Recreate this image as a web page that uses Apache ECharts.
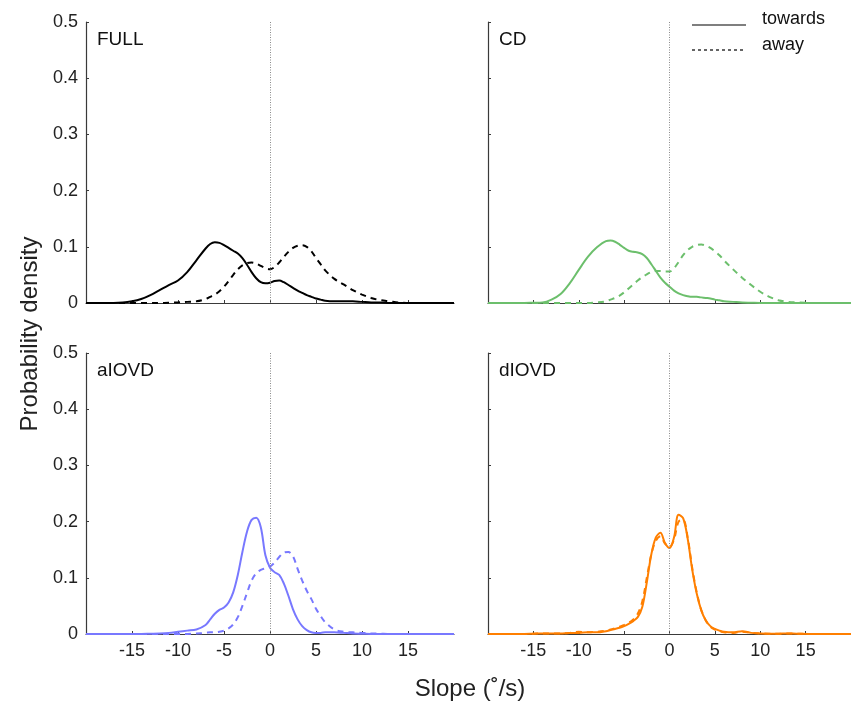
<!DOCTYPE html>
<head>
    <meta charset="utf-8">
    <title>Slope density</title>
    <style>
        html, body{
            margin: 0;
            padding: 0;
            background: #fff;
        }
        #main{
            width: 851px;
            height: 704px;
        }
    </style>
</head>
<body>
    <div id="main"></div>
    <script src="https://cdn.jsdelivr.net/npm/echarts@6/dist/echarts.min.js"></script>
    <script>
        // slope values (deg/s) where the densities were read
        var xs = [-20, -18, -16, -15, -14, -13, -12, -11, -10, -9, -8, -7,
            -6.5, -6, -5.5, -5, -4.5, -4, -3.5, -3, -2.5, -2, -1.5, -1, -0.5,
            0, 0.5, 1, 1.5, 2, 2.5, 3, 3.5, 4, 4.5, 5, 5.5, 6,
            7, 8, 9, 10, 11, 12, 13, 14, 16, 18, 20];

        var panelNames = ['FULL', 'CD', 'aIOVD', 'dIOVD'];
        var panelColors = ['#000000', '#6cbf6c', '#7878ff', '#ff7f00'];
        var xTicks = [-15, -10, -5, 0, 5, 10, 15];
        var legendNames = ['towards', 'away'];

        var fullTowards = [0, 0, 0.001, 0.003, 0.007, 0.014, 0.023, 0.032, 0.040, 0.055, 0.076, 0.097,
            0.105, 0.108, 0.107, 0.103, 0.098, 0.093, 0.088, 0.080, 0.068, 0.055, 0.044, 0.037, 0.035,
            0.036, 0.039, 0.040, 0.037, 0.032, 0.027, 0.022, 0.018, 0.014, 0.011, 0.008, 0.006, 0.004,
            0.003, 0.003, 0.003, 0.002, 0.001, 0.001, 0, 0, 0, 0, 0];
        var fullAway = [0, 0, 0, 0, 0, 0, 0, 0.0005, 0.001, 0.002, 0.003, 0.007,
            0.011, 0.015, 0.021, 0.029, 0.039, 0.050, 0.060, 0.067, 0.071, 0.072, 0.070, 0.066, 0.062,
            0.060, 0.064, 0.072, 0.082, 0.091, 0.098, 0.102, 0.103, 0.100, 0.092, 0.080, 0.069, 0.058,
            0.043, 0.033, 0.023, 0.015, 0.009, 0.005, 0.003, 0.001, 0, 0, 0];

        var cdTowards = [0, 0, 0, 0.0005, 0.001, 0.006, 0.016, 0.035, 0.059, 0.082, 0.099, 0.110,
            0.111, 0.109, 0.104, 0.098, 0.093, 0.091, 0.090, 0.087, 0.080, 0.069, 0.057, 0.045, 0.036,
            0.029, 0.022, 0.017, 0.014, 0.012, 0.011, 0.011, 0.010, 0.009, 0.008, 0.006, 0.005, 0.003,
            0.002, 0.001, 0.0005, 0, 0, 0, 0, 0, 0, 0, 0];
        var cdAway = [0, 0, 0, 0, 0, 0, 0, 0, 0, 0, 0.001, 0.003,
            0.006, 0.009, 0.013, 0.019, 0.026, 0.033, 0.040, 0.046, 0.051, 0.055, 0.057, 0.057, 0.056,
            0.056, 0.062, 0.073, 0.085, 0.094, 0.100, 0.103, 0.104, 0.102, 0.098, 0.092, 0.085, 0.076,
            0.060, 0.045, 0.032, 0.020, 0.011, 0.005, 0.002, 0.001, 0, 0, 0];

        var aiTowards = [0, 0, 0, 0, 0, 0.0005, 0.001, 0.002, 0.004, 0.006, 0.008, 0.016,
            0.026, 0.036, 0.043, 0.047, 0.056, 0.074, 0.105, 0.146, 0.182, 0.203, 0.207, 0.190, 0.140,
            0.118, 0.110, 0.105, 0.090, 0.068, 0.044, 0.026, 0.014, 0.007, 0.003, 0.002, 0.002, 0.003,
            0.003, 0.002, 0.001, 0.0005, 0, 0, 0, 0, 0, 0, 0];
        var aiAway = [0, 0, 0, 0, 0, 0, 0, 0, 0, 0, 0.001, 0.002,
            0.003, 0.003, 0.004, 0.006, 0.010, 0.017, 0.030, 0.050, 0.073, 0.095, 0.108, 0.114, 0.117,
            0.120, 0.127, 0.137, 0.145, 0.146, 0.138, 0.116, 0.095, 0.077, 0.062, 0.045, 0.032, 0.021,
            0.008, 0.004, 0.003, 0.002, 0.001, 0.0005, 0, 0, 0, 0, 0];

        var diTowards = [0, 0, 0, 0.0005, 0.001, 0.001, 0.001, 0.002, 0.002, 0.003, 0.003, 0.005,
            0.007, 0.009, 0.011, 0.014, 0.018, 0.023, 0.030, 0.048, 0.092, 0.142, 0.172, 0.180, 0.162,
            0.153, 0.172, 0.212, 0.206, 0.170, 0.115, 0.072, 0.042, 0.024, 0.014, 0.009, 0.006, 0.004,
            0.003, 0.005, 0.002, 0.001, 0.0005, 0.0005, 0.001, 0.0005, 0, 0, 0];
        var diAway = [0, 0, 0, 0.0005, 0.001, 0.001, 0.001, 0.002, 0.004, 0.003, 0.004, 0.006,
            0.008, 0.010, 0.013, 0.016, 0.020, 0.026, 0.036, 0.058, 0.100, 0.142, 0.166, 0.174, 0.161,
            0.155, 0.168, 0.200, 0.203, 0.172, 0.118, 0.074, 0.043, 0.024, 0.013, 0.008, 0.005, 0.003,
            0.002, 0.004, 0.002, 0.001, 0.0005, 0.0005, 0.001, 0.0005, 0, 0, 0];

        var towardsData = [fullTowards, cdTowards, aiTowards, diTowards];
        var awayData = [fullAway, cdAway, aiAway, diAway];

        function pairs(ys){
            return xs.map(function(x, i){ return [x, ys[i]]; });
        }

        var font = 'Liberation Sans, Arial, Helvetica, sans-serif';
        var axisColor = '#3a3a3a';

        var gridPos = [
            {left: 86, top: 22},
            {left: 488, top: 22},
            {left: 86, top: 353},
            {left: 488, top: 353}
        ];

        var grids = [], xAxes = [], yAxes = [], series = [], titles = [];
        gridPos.forEach(function(p, i){
            var isBottom = i >= 2;
            var isLeft = i % 2 === 0;
            grids.push({left: p.left, top: p.top, width: 368, height: 281, containLabel: false});
            xAxes.push({
                type: 'value', gridIndex: i, min: -20, max: 20, interval: 5,
                splitLine: {show: false},
                axisLine: {onZero: false, lineStyle: {color: axisColor, width: 1.2}},
                axisTick: {inside: true, length: 3, lineStyle: {color: axisColor},
                    customValues: xTicks},
                axisLabel: {
                    show: isBottom, margin: 8, fontSize: 18, color: '#222', fontFamily: font,
                    customValues: xTicks
                }
            });
            yAxes.push({
                type: 'value', gridIndex: i, min: 0, max: 0.5, interval: 0.1,
                splitLine: {show: false},
                axisLine: {show: true, onZero: false, lineStyle: {color: axisColor, width: 1.2}},
                axisTick: {show: true, inside: true, length: 3, lineStyle: {color: axisColor}},
                axisLabel: {show: isLeft, margin: 8, fontSize: 18, color: '#222', fontFamily: font}
            });
            series.push({
                name: legendNames[0], type: 'line', xAxisIndex: i, yAxisIndex: i,
                data: pairs(towardsData[i]), symbol: 'none', smooth: 0.35, z: 3,
                lineStyle: {color: panelColors[i], width: 2},
                itemStyle: {color: panelColors[i]},
                markLine: {
                    silent: true, symbol: 'none', label: {show: false},
                    lineStyle: {color: '#8a8a8a', type: [1, 1.5], width: 1},
                    data: [{xAxis: 0}]
                }
            });
            series.push({
                name: legendNames[1], type: 'line', xAxisIndex: i, yAxisIndex: i,
                data: pairs(awayData[i]), symbol: 'none', smooth: 0.35, z: 2,
                lineStyle: {color: panelColors[i], width: 2, type: [6, 5]},
                itemStyle: {color: panelColors[i]}
            });
            titles.push({
                text: panelNames[i], left: p.left + 6, top: p.top + 3,
                textStyle: {fontSize: 19, fontWeight: 'normal', color: '#111', fontFamily: font}
            });
        });

        // legend drawn by hand: black solid / dashed sample lines
        var legendGraphics = [
            {type: 'line', shape: {x1: 692, y1: 25, x2: 746, y2: 25},
                style: {stroke: '#000', lineWidth: 1.2}},
            {type: 'line', shape: {x1: 692, y1: 50, x2: 746, y2: 50},
                style: {stroke: '#000', lineWidth: 1.2, lineDash: [3, 3]}},
            {type: 'text', x: 762, y: 19,
                style: {text: legendNames[0], fontSize: 18, fill: '#111', fontFamily: font, verticalAlign: 'middle'}},
            {type: 'text', x: 762, y: 45,
                style: {text: legendNames[1], fontSize: 18, fill: '#111', fontFamily: font, verticalAlign: 'middle'}}
        ];

        var chart = echarts.init(document.getElementById('main'));
        chart.setOption({
            backgroundColor: '#fff',
            animation: false,
            title: titles,
            grid: grids,
            xAxis: xAxes,
            yAxis: yAxes,
            series: series,
            graphic: legendGraphics.concat([
                {
                    type: 'text', x: 30, y: 334, rotation: Math.PI / 2,
                    style: {text: 'Probability density', fontSize: 24, fill: '#222', fontFamily: font,
                        align: 'center', verticalAlign: 'middle'}
                },
                {
                    type: 'text', x: 470, y: 689,
                    style: {text: 'Slope (\u02DA/s)', fontSize: 24, fill: '#222', fontFamily: font,
                        align: 'center', verticalAlign: 'middle'}
                }
            ])
        });

        window.addEventListener('resize', function(){
            chart.resize();
        });
    </script>
</body>
